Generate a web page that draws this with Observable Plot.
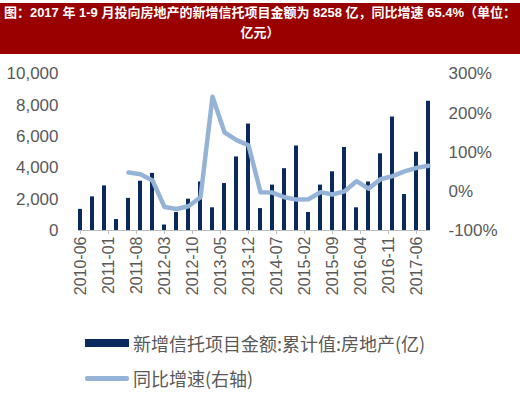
<!DOCTYPE html>
<html>
<head>
<meta charset="utf-8">
<script src="https://cdn.jsdelivr.net/npm/d3@7"></script>
<script src="https://cdn.jsdelivr.net/npm/@observablehq/plot@0.6"></script>
<style>
  html, body { margin: 0; padding: 0; background: #fff; }
  #wrap { position: relative; width: 520px; height: 394px; overflow: hidden; }
  #title {
    position: absolute; left: 0; top: 3px; width: 520px; height: 51px;
    background: #990000; color: #fff; font-weight: bold; font-size: 13px;
    line-height: 20px; text-align: center;
    font-family: "Liberation Sans", "Noto Sans CJK SC", sans-serif;
  }
  #chart { position: absolute; left: 0; top: 54px; }
  .leg { position: absolute; left: 85px; font-family: "Noto Sans CJK SC", sans-serif; font-size: 18px; color: #595959; display: flex; align-items: center; white-space: nowrap; }
  .sw { width: 44px; margin-right: 4px; }
</style>
</head>
<body>
<div id="wrap">
  <div id="title">图：2017 年 1-9 月投向房地产的新增信托项目金额为 8258 亿，同比增速 65.4%（单位：<br>亿元）</div>
  <div id="chart"></div>
  <div class="leg" style="top:330px;"><div class="sw" style="height:8px;background:#0a2a5e;"></div><span>新增信托项目金额:累计值:房地产(亿)</span></div>
  <div class="leg" style="top:365px;"><div class="sw" style="height:5px;background:#95b3d7;border-radius:2px;"></div><span>同比增速(右轴)</span></div>
</div>
<script>
// Quarter-end periods (cumulative data)
const quarters = ["2010-06","2010-09","2010-12",
  "2011-03","2011-06","2011-09","2011-12",
  "2012-03","2012-06","2012-09","2012-12",
  "2013-03","2013-06","2013-09","2013-12",
  "2014-03","2014-06","2014-09","2014-12",
  "2015-03","2015-06","2015-09","2015-12",
  "2016-03","2016-06","2016-09","2016-12",
  "2017-03","2017-06","2017-09"];
// 新增信托项目金额:累计值:房地产 (亿元)
const amount = [1350, 2150, 2850,
  700, 2050, 3150, 3650,
  350, 1150, 2000, 3100,
  1450, 3000, 4700, 6800,
  1400, 2900, 3950, 5400,
  1150, 2900, 3750, 5300,
  1450, 3100, 4900, 7250,
  2300, 5000, 8258];
// 同比增速 (%)
const yoy = [null, null, null,
  null, 48, 44, 28,
  -40, -45, -38, -15,
  242, 151, 131, 118,
  -2, -3, -15, -21,
  -20, -2, -8, 0,
  26, 7, 31, 39,
  51, 60, 65.4];
// x-axis tick labels
const xTicks = ["2010-06","2011-01","2011-08","2012-03","2012-10","2013-05","2013-12",
  "2014-07","2015-02","2015-09","2016-04","2016-11","2017-06"];
const leftTicks = [0, 2000, 4000, 6000, 8000, 10000];
const rightTicks = [-100, 0, 100, 200, 300];

// monthly category axis
const months = d3.utcMonth.range(new Date(Date.UTC(2010, 5, 1)), new Date(Date.UTC(2017, 9, 1))).map(d3.utcFormat("%Y-%m"));

// right axis mapping: -100%..300% -> 0..10000
const toLeft = p => (p + 100) * 25;

const barData = quarters.map((q, i) => ({q, v: amount[i]}));
const lineData = quarters.map((q, i) => ({q, p: yoy[i]})).filter(d => d.p != null);

const chart = Plot.plot({
  width: 520,
  height: 256,
  marginLeft: 78,
  marginRight: 90,
  marginTop: 19.5,
  marginBottom: 80,
  style: {fontFamily: "'Liberation Sans', Arial, sans-serif", fontSize: "17px", color: "#595959", background: "transparent"},
  x: {type: "band", domain: months, padding: 0},
  y: {domain: [0, 10000]},
  marks: [
    Plot.barY(barData, {x: "q", y: "v", fill: "#0a2a5e"}),
    Plot.ruleY([0], {stroke: "#bfbfbf", strokeWidth: 1}),
    Plot.line(lineData, {x: "q", y: d => toLeft(d.p), stroke: "#95b3d7", strokeWidth: 4.5, strokeLinejoin: "round", strokeLinecap: "round"}),
    Plot.axisX({ticks: xTicks, tickRotate: -90, tickSize: 4, tickPadding: 2, stroke: "#bfbfbf", label: null, fontSize: 16}),
    Plot.axisY(leftTicks, {anchor: "left", tickSize: 0, tickPadding: 20, tickFormat: d3.format(","), label: null}),
    Plot.axisY(rightTicks.map(toLeft), {anchor: "right", tickSize: 0, tickPadding: 18, tickFormat: d => (d / 25 - 100) + "%", label: null})
  ]
});
document.getElementById("chart").appendChild(chart);
</script>
</body>
</html>
